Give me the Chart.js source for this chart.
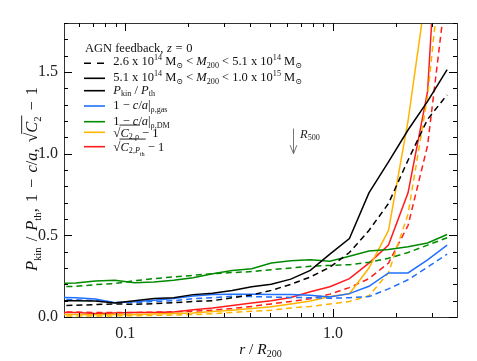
<!DOCTYPE html>
<html>
<head>
<meta charset="utf-8">
<script src="https://cdn.jsdelivr.net/npm/chart.js@4.4.1/dist/chart.umd.min.js"></script>
<style>
html, body { margin: 0; padding: 0; background: #fff; }
canvas { display: block; }
</style>
</head>
<body>
<canvas id="chart" width="477" height="361"></canvas>
<script>

// radial bins, r / R200
const rOverR200 = [0.0467, 0.0579, 0.0719, 0.0893, 0.1109, 0.1377, 0.1710, 0.2123, 0.2636, 0.3273,
                   0.4064, 0.5047, 0.6266, 0.7780, 0.9661, 1.1995, 1.4894, 1.8493, 2.2961, 2.8510, 3.5400];

// solid = 5.1e14 < M200 < 1.0e15, dashed = 2.6e14 < M200 < 5.1e14
const kinHi = [0.100, 0.100, 0.098, 0.086, 0.100, 0.113, 0.118, 0.137, 0.145, 0.162, 0.185, 0.200, 0.232, 0.285, 0.385, 0.480, 0.760, 0.950, 1.145, 1.320, 1.515];
const kinLo = [0.070, 0.072, 0.076, 0.080, 0.077, 0.082, 0.087, 0.095, 0.100, 0.118, 0.135, 0.163, 0.200, 0.245, 0.305, 0.395, 0.530, 0.695, 0.960, 1.210, 1.360];
const gasHi = [0.120, 0.118, 0.110, 0.088, 0.093, 0.102, 0.113, 0.128, 0.137, 0.140, 0.140, 0.138, 0.138, 0.133, 0.122, 0.143, 0.188, 0.270, 0.270, 0.350, 0.440];
const gasLo = [0.110, 0.105, 0.100, 0.090, 0.088, 0.095, 0.100, 0.112, 0.118, 0.127, 0.125, 0.122, 0.120, 0.118, 0.115, 0.118, 0.125, 0.172, 0.228, 0.305, 0.385];
const dmHi  = [0.205, 0.208, 0.220, 0.225, 0.210, 0.215, 0.225, 0.240, 0.265, 0.285, 0.296, 0.330, 0.345, 0.351, 0.342, 0.372, 0.404, 0.413, 0.430, 0.453, 0.505];
const dmLo  = [0.185, 0.188, 0.198, 0.205, 0.222, 0.235, 0.245, 0.255, 0.265, 0.272, 0.278, 0.290, 0.300, 0.310, 0.316, 0.320, 0.335, 0.360, 0.395, 0.440, 0.485];
const c2rhoHi = [0.015, 0.015, 0.014, 0.015, 0.016, 0.018, 0.021, 0.025, 0.033, 0.042, 0.052, 0.063, 0.080, 0.098, 0.125, 0.142, 0.300, 0.530, 1.200, 2.050, 4.000];
const c2rhoLo = [0.006, 0.006, 0.006, 0.007, 0.008, 0.010, 0.012, 0.015, 0.020, 0.028, 0.035, 0.042, 0.055, 0.065, 0.080, 0.095, 0.130, 0.270, 0.630, 1.350, 2.500];
const c2pHi = [0.028, 0.027, 0.022, 0.025, 0.027, 0.028, 0.030, 0.045, 0.055, 0.070, 0.085, 0.100, 0.120, 0.155, 0.185, 0.235, 0.330, 0.440, 0.760, 1.380, 3.400];
const c2pLo = [0.032, 0.030, 0.027, 0.027, 0.028, 0.030, 0.032, 0.035, 0.042, 0.052, 0.065, 0.080, 0.095, 0.112, 0.140, 0.180, 0.235, 0.330, 0.560, 1.050, 2.050];

const xTicks = [0.06, 0.07, 0.08, 0.09, 0.1, 0.2, 0.3, 0.4, 0.5, 0.6, 0.7, 0.8, 0.9, 1, 2, 3];
const xLabels = { 0.1: "0.1", 1: "1.0" };

// R500 marker
const r500 = 0.642;
const r500Arrow = [1.154, 1.0];

const BLACK = "#000000", BLUE = "#2070ff", GREEN = "#008a00", ORANGE = "#ffb400", RED = "#ff1c1c";
const SERIF = "'Liberation Serif','DejaVu Serif',serif";
const X_MIN = 0.0508, X_MAX = 3.95, Y_MIN = 0, Y_MAX = 1.8;

function font(size, italic) {
    return (italic ? "italic " : "") + size + "px " + SERIF;
}

/* draws text in pieces: n normal, i italic, b sub, bi italic sub, bb sub-sub, p sup, sq/sqe root, s space */
function richText(ctx, x, y, segs, size, spaceW, draw) {
    let cx = x, sqStart = x;
    for (const [t, k] of segs) {
        if (k === "sq") {
            ctx.font = font(size * 1.05, false);
            if (draw) ctx.fillText("\u221A", cx, y);
            cx += ctx.measureText("\u221A").width;
            sqStart = cx;
            continue;
        }
        if (k === "sqe") {
            if (draw) {
                ctx.save();
                ctx.lineWidth = 0.9;
                ctx.strokeStyle = ctx.fillStyle;
                ctx.beginPath();
                ctx.moveTo(sqStart - 1, y - size * 0.93);
                ctx.lineTo(cx + 1, y - size * 0.93);
                ctx.stroke();
                ctx.restore();
            }
            continue;
        }
        if (k === "s") { cx += spaceW; continue; }
        let s = size, dy = 0, it = false;
        if (k === "i") it = true;
        if (k === "b" || k === "bi") { s = size * 0.65; dy = size * 0.22; it = (k === "bi"); }
        if (k === "bb") { s = size * 0.5; dy = size * 0.4; }
        if (k === "p") { s = size * 0.65; dy = -size * 0.42; }
        ctx.font = font(s, it);
        if (draw) ctx.fillText(t, cx, y + dy);
        cx += ctx.measureText(t).width;
    }
    return cx - x;
}

const legendHead = [["AGN feedback,", "n"], ["", "s"], ["z", "i"], ["", "s"], ["=", "n"], ["", "s"], ["0", "n"]];
const rowLo = [["2.6 x 10", "n"], ["14", "p"], [" M", "n"], ["\u2299", "b"], [" < ", "n"], ["M", "i"], ["200", "b"],
               [" < 5.1 x 10", "n"], ["14", "p"], [" M", "n"], ["\u2299", "b"]];
const rowHi = [["5.1 x 10", "n"], ["14", "p"], [" M", "n"], ["\u2299", "b"], [" < ", "n"], ["M", "i"], ["200", "b"],
               [" < 1.0 x 10", "n"], ["15", "p"], [" M", "n"], ["\u2299", "b"]];
const rowKin = [["P", "i"], ["kin", "b"], [" / ", "n"], ["P", "i"], ["th", "b"]];
const rowGas = [["1 \u2212 ", "n"], ["c", "i"], ["/", "n"], ["a", "i"], ["|", "n"], ["\u03C1,gas", "b"]];
const rowDm = [["1 \u2212 ", "n"], ["c", "i"], ["/", "n"], ["a", "i"], ["|", "n"], ["\u03C1,DM", "b"]];
const rowC2r = [["", "sq"], ["C", "i"], ["2,\u03C1", "b"], ["", "sqe"], [" \u2212 1", "n"]];
const rowC2p = [["", "sq"], ["C", "i"], ["2,", "b"], ["P", "bi"], ["th", "bb"], ["", "sqe"], [" \u2212 1", "n"]];

const legendRows = [
    { segs: rowLo, color: BLACK, dash: true, ly: 63.3, ty: 65 },
    { segs: rowHi, color: BLACK, dash: false, ly: 78.3, ty: 81 },
    { segs: rowKin, color: BLACK, dash: false, ly: 90.7, ty: 93.5 },
    { segs: rowGas, color: BLUE, dash: false, ly: 106, ty: 109.3 },
    { segs: rowDm, color: GREEN, dash: false, ly: 121.7, ty: 125.3 },
    { segs: rowC2r, color: ORANGE, dash: false, ly: 132.3, ty: 136.7 },
    { segs: rowC2p, color: RED, dash: false, ly: 146.7, ty: 150.7 }
];

const yTitle = [["P", "i"], ["kin", "b"], ["", "s"], ["/", "n"], ["", "s"], ["P", "i"], ["th", "b"], [",", "n"], ["", "s"],
                ["1", "n"], ["", "s"], ["\u2212", "n"], ["", "s"], ["c", "i"], ["/", "n"], ["a", "i"], [",", "n"], ["", "s"],
                ["", "sq"], ["C", "i"], ["2", "b"], ["", "sqe"], ["", "s"], ["\u2212", "n"], ["", "s"], ["1", "n"]];
const xTitle = [["r", "i"], [" / ", "n"], ["R", "i"], ["200", "b"]];

function isMajorY(v) {
    return Math.abs(v * 2 - Math.round(v * 2)) < 1e-6;
}

const decor = {
    id: "decor",
    afterDraw(chart) {
        const c = chart.ctx;
        const a = chart.chartArea;
        const x = chart.scales.x, y = chart.scales.y;
        c.save();
        c.setLineDash([]);

        // top edge of the frame
        c.fillStyle = "#333";
        c.fillRect(Math.round(a.left), Math.round(a.top), Math.round(a.right - a.left), 1);

        // inward ticks on all four sides
        const L = a.left, R = a.right, T = a.top, B = a.bottom;
        c.strokeStyle = "#000";
        c.lineWidth = 1;
        c.beginPath();
        y.ticks.forEach(t => {
            const py = Math.round(y.getPixelForValue(t.value)) + 0.5;
            const len = isMajorY(t.value) ? 8 : 4;
            c.moveTo(L, py); c.lineTo(L + len, py);
            c.moveTo(R, py); c.lineTo(R - len, py);
        });
        x.ticks.forEach(t => {
            const px = Math.round(x.getPixelForValue(t.value)) + 0.5;
            const len = xLabels[t.value] ? 8 : 4;
            c.moveTo(px, B); c.lineTo(px, B - len);
            c.moveTo(px, T); c.lineTo(px, T + len);
        });
        c.stroke();

        // R500 arrow
        const ax = Math.round(x.getPixelForValue(r500)) + 0.5;
        const ay0 = y.getPixelForValue(r500Arrow[0]);
        const ay1 = y.getPixelForValue(r500Arrow[1]);
        c.strokeStyle = "#666";
        c.lineWidth = 0.9;
        c.beginPath();
        c.moveTo(ax, ay0); c.lineTo(ax, ay1);
        c.moveTo(ax - 3.4, ay1 - 8.5); c.lineTo(ax, ay1); c.lineTo(ax + 3.4, ay1 - 8.5);
        c.stroke();
        c.fillStyle = "#222";
        c.textBaseline = "alphabetic";
        richText(c, ax + 6.5, ay0 + 9, [["R", "i"], ["500", "b"]], 12.5, 4, true);

        // legend
        c.fillStyle = "#111";
        richText(c, 85, 51.7, legendHead, 12.5, 3.6, true);
        legendRows.forEach(r => {
            c.strokeStyle = r.color;
            c.lineWidth = 1.6;
            c.setLineDash(r.dash ? [7, 6] : []);
            c.beginPath();
            c.moveTo(84, r.ly); c.lineTo(105, r.ly);
            c.stroke();
            c.setLineDash([]);
            c.fillStyle = "#111";
            richText(c, 113.3, r.ty, r.segs, 12.5, 3.6, true);
        });

        // axis titles
        c.fillStyle = "#111";
        const xw = richText(c, 0, 0, xTitle, 15.5, 4, false);
        richText(c, (a.left + a.right) / 2 - xw / 2, 353.5, xTitle, 15.5, 4, true);

        const yw = richText(c, 0, 0, yTitle, 16.5, 6, false);
        c.translate(37, 179 + yw / 2);
        c.rotate(-Math.PI / 2);
        richText(c, 0, 0, yTitle, 16.5, 6, true);
        c.restore();
    }
};

function mk(values, color, dashed) {
    return {
        data: rOverR200.map((r, i) => ({ x: r, y: values[i] })),
        borderColor: color,
        borderWidth: 1.5,
        borderDash: dashed ? [6, 4] : [],
        pointRadius: 0,
        fill: false,
        tension: 0,
        clip: 0
    };
}

const frameBorder = { display: true, color: "#333", width: 1 };
const noGrid = { display: false, drawTicks: false };

const canvas = document.getElementById("chart");

new Chart(canvas, {
    type: "line",
    data: {
        datasets: [
            mk(kinLo, BLACK, true), mk(kinHi, BLACK, false),
            mk(gasLo, BLUE, true), mk(gasHi, BLUE, false),
            mk(dmLo, GREEN, true), mk(dmHi, GREEN, false),
            mk(c2rhoLo, ORANGE, true), mk(c2rhoHi, ORANGE, false),
            mk(c2pLo, RED, true), mk(c2pHi, RED, false)
        ]
    },
    options: {
        responsive: false,
        animation: false,
        devicePixelRatio: 1,
        layout: { padding: { left: 0, top: 23, right: 20, bottom: 0 } },
        plugins: { legend: { display: false }, tooltip: { enabled: false } },
        scales: {
            x: {
                type: "logarithmic",
                position: "bottom",
                min: X_MIN,
                max: X_MAX,
                afterBuildTicks: s => { s.ticks = xTicks.map(v => ({ value: v })); },
                afterFit: s => { s.height = 44; },
                grid: noGrid,
                border: frameBorder,
                ticks: {
                    autoSkip: false,
                    maxRotation: 0,
                    padding: 7,
                    color: "#222",
                    font: { family: SERIF, size: 16 },
                    callback: v => xLabels[v] || ""
                }
            },
            xTop: {
                type: "logarithmic",
                position: "top",
                min: X_MIN,
                max: X_MAX,
                afterFit: s => { s.height = 0; },
                grid: noGrid,
                border: frameBorder,
                ticks: { display: false }
            },
            y: {
                position: "left",
                min: Y_MIN,
                max: Y_MAX,
                afterFit: s => { s.width = 64; },
                grid: noGrid,
                border: frameBorder,
                ticks: {
                    stepSize: 0.1,
                    autoSkip: false,
                    padding: 6,
                    color: "#222",
                    font: { family: SERIF, size: 16 },
                    callback: v => isMajorY(v) ? v.toFixed(1) : ""
                }
            },
            yRight: {
                position: "right",
                min: Y_MIN,
                max: Y_MAX,
                afterFit: s => { s.width = 0; },
                grid: noGrid,
                border: frameBorder,
                ticks: { display: false }
            }
        }
    },
    plugins: [decor]
});
</script>
</body>
</html>
